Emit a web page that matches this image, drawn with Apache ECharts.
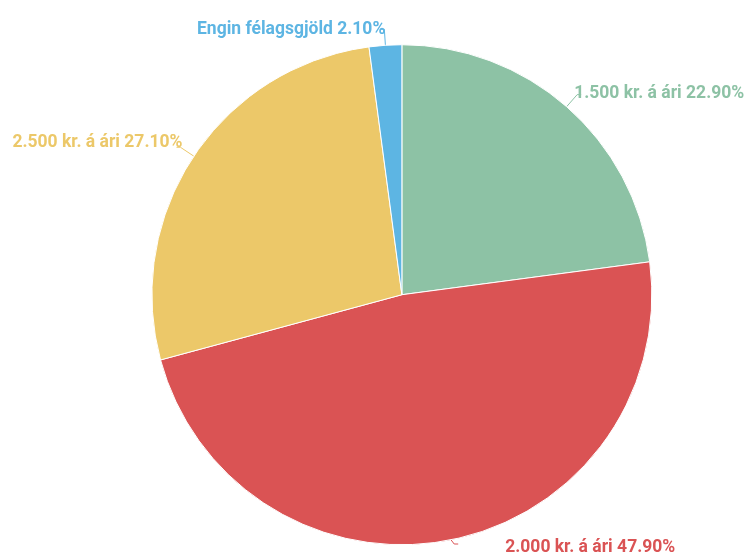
<!DOCTYPE html>
<html>
<head>
<meta charset="utf-8">
<script src="https://cdn.jsdelivr.net/npm/echarts@6/dist/echarts.min.js"></script>
<style>
  html, body { margin: 0; padding: 0; background: #fff; }
  #main { width: 747px; height: 554px; }
</style>
</head>
<body>
<div id="main"></div>
<script>
var categories = ['1.500 kr. á ári', '2.000 kr. á ári', '2.500 kr. á ári', 'Engin félagsgjöld'];
var values = [22.9, 47.9, 27.1, 2.1];
var colors = ['#8dc2a5', '#da5354', '#ecc869', '#5db5e3'];
// small nudges of the labels so they sit like the original
var labelShiftX = [-12, 42, 11, 10];
var labelShiftY = [-1, 4, -5, 0];

var myChart = echarts.init(document.getElementById('main'));
var option = {
  animation: false,
  series: [{
    type: 'pie',
    center: ['53.8%', '53.2%'],
    radius: 250,
    startAngle: 90,
    clockwise: true,
    data: categories.map(function (c, i) {
      return {
        name: c, value: values[i],
        itemStyle: { color: colors[i] },
        label: { color: colors[i] }
      };
    }),
    itemStyle: {
      borderColor: '#fff',
      borderWidth: 1
    },
    label: {
      show: true,
      formatter: function (p) { return p.name + ' ' + p.value.toFixed(2) + '%'; },
      fontFamily: 'Roboto',
      fontWeight: 'bold',
      fontSize: 17.5,
      overflow: 'none',
      edgeDistance: 0
    },
    labelLine: {
      show: true,
      length: 16,
      length2: 4,
      lineStyle: { width: 1 }
    },
    labelLayout: function (p) {
      return { dx: labelShiftX[p.dataIndex], dy: labelShiftY[p.dataIndex] };
    }
  }]
};
myChart.setOption(option);
</script>
</body>
</html>
